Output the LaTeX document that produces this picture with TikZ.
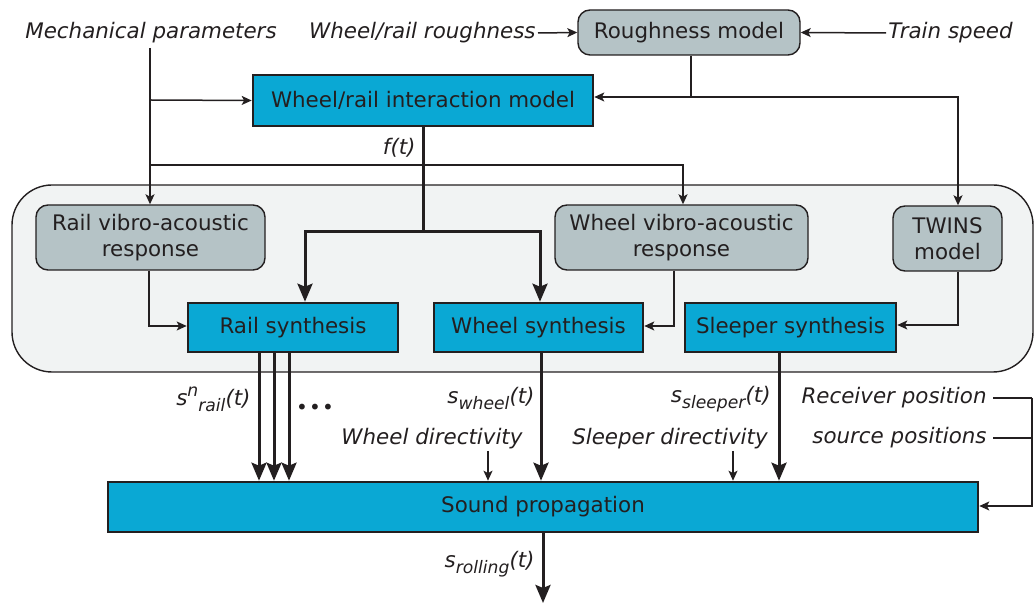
\documentclass[tikz,border=0pt]{standalone}
\usepackage{fontspec}
\setmainfont{DejaVu Sans}
\usetikzlibrary{arrows.meta}
\definecolor{blu}{HTML}{0AA8D4}
\definecolor{gry}{HTML}{B5C3C6}
\definecolor{grp}{HTML}{F1F3F3}
\definecolor{ink}{HTML}{231F20}
\newcommand{\subtxt}[1]{\raisebox{-0.28em}{\fontsize{8.6}{10}\selectfont #1}}
\newcommand{\suptxt}[1]{\raisebox{0.42em}{\fontsize{8.6}{10}\selectfont #1}}
\tikzset{
  bluebox/.style={draw=ink, fill=blu, line width=1.3pt, text=ink, inner sep=0pt, minimum height=24.5pt},
  graybox/.style={draw=ink, fill=gry, line width=0.7pt, rounded corners=6pt, text=ink, align=center, inner sep=0pt, minimum height=32.5pt},
  lbl/.style={font=\fontsize{10.7}{12.5}\selectfont\itshape, text=ink, inner sep=1pt},
  thinline/.style={draw=ink, line width=0.75pt},
  thinarr/.style={thinline, -{Stealth[length=5pt,width=4.5pt,inset=1.2pt]}},
  thickline/.style={draw=ink, line width=1.5pt},
  thickarr/.style={thickline, -{Stealth[length=9pt,width=7.5pt,inset=1.5pt]}},
}
\begin{document}
\begin{tikzpicture}[x=0.5pt,y=-0.5pt, font=\fontsize{10.7}{13}\selectfont]
\useasboundingbox (0,0) rectangle (1034,603);
% group
\draw[draw=ink, fill=grp, line width=0.7pt, rounded corners=20pt] (12,185) rectangle (1033,372);
% nodes
\node[graybox, minimum width=111pt, minimum height=22.5pt] (rough) at (689,32.5) {Roughness model};
\node[bluebox, minimum width=170pt, minimum height=25.5pt] (wri) at (423,100.5) {Wheel/rail interaction model};
\node[graybox, minimum width=114.5pt] (railva) at (150.5,237.5) {Rail vibro-acoustic\\response};
\node[graybox, minimum width=126.5pt] (wheelva) at (681.5,237.5) {Wheel vibro-acoustic\\response};
\node[graybox, minimum width=54.5pt] (twins) at (947.5,238.5) {TWINS\\model};
\node[bluebox, minimum width=105pt] (railsyn) at (293,327.5) {Rail synthesis};
\node[bluebox, minimum width=104.5pt] (wheelsyn) at (538.5,327.5) {Wheel synthesis};
\node[bluebox, minimum width=105.5pt] (sleepsyn) at (790.5,327.5) {Sleeper synthesis};
\node[bluebox, minimum width=435pt, minimum height=25pt] (sound) at (543,507) {Sound propagation};
% labels
\node[lbl] (mech) at (151,33) {Mechanical parameters};
\node[lbl, anchor=east] (wrr) at (538,33) {Wheel/rail roughness};
\node[lbl, anchor=west] (speed) at (886,33) {Train speed};
\node[lbl, anchor=east] (ft) at (418,148) {f(t)};
\node[lbl, anchor=east] (snrail) at (253,399) {s\suptxt{n}\subtxt{rail}(t)};
\node[text=ink, inner sep=0pt] (dots) at (315,409) {\fontsize{10}{12}\selectfont •\hspace{0.6pt}•\hspace{0.6pt}•};
\node[lbl, anchor=east] (swheel) at (537,399) {s\subtxt{wheel}(t)};
\node[lbl, anchor=east] (ssleeper) at (773,399) {s\subtxt{sleeper}(t)};
\node[lbl] (wdir) at (432,439) {Wheel directivity};
\node[lbl] (sdir) at (670,439) {Sleeper directivity};
\node[lbl, anchor=east] (recv) at (989,398) {Receiver position};
\node[lbl, anchor=east] (src) at (989,438) {source positions};
\node[lbl, anchor=east] (sroll) at (537,564) {s\subtxt{rolling}(t)};
\coordinate (out) at (543,603);
\coordinate (rj) at (1032,398);
\coordinate (sj) at (1032,438);
% connectors top
\draw[thinarr] (wrr.east) -- (rough.west);
\draw[thinarr] (speed.west) -- (rough.east);
\draw[thinarr] (150,48) -- (150,0 |- railva.north);
\draw[thinarr] (150,100) -- (wri.west);
\draw[thinarr] (150,165) -- (683,165) -- (683,0 |- wheelva.north);
\draw[thinline] (691,0 |- rough.south) -- (691,97);
\draw[thinarr] (691,97) -- (wri.east |- 0,97);
\draw[thinarr] (691,97) -- (958,97) -- (958,0 |- twins.north);
% f(t) thick
\draw[thickline] (423,0 |- wri.south) -- (423,232);
\draw[thickarr] (423,232) -- (305,232) -- (305,0 |- railsyn.north);
\draw[thickarr] (423,232) -- (540,232) -- (540,0 |- wheelsyn.north);
% response to synthesis
\draw[thinarr] (149,0 |- railva.south) -- (149,326) -- (railsyn.west |- 0,326);
\draw[thinarr] (674,0 |- wheelva.south) -- (674,326) -- (wheelsyn.east |- 0,326);
\draw[thinarr] (958,0 |- twins.south) -- (958,325) -- (sleepsyn.east |- 0,325);
% synthesis to sound propagation
\foreach \xx in {259,274,289} {
  \draw[thickarr] (\xx,0 |- railsyn.south) -- (\xx,0 |- sound.north);
}
\draw[thickarr] (541,0 |- wheelsyn.south) -- (541,0 |- sound.north);
\draw[thickarr] (779,0 |- sleepsyn.south) -- (779,0 |- sound.north);
\draw[thinarr] (488,451) -- (488,0 |- sound.north);
\draw[thinarr] (733,451) -- (733,0 |- sound.north);
% positions
\draw[thinline] ([xshift=2pt]recv.east) -- (rj);
\draw[thinline] ([xshift=2pt]src.east) -- (sj);
\draw[thinarr] (rj) -- (1032,506) -- (sound.east |- 0,506);
% output
\draw[thickarr] (543,0 |- sound.south) -- (out);
\end{tikzpicture}
\end{document}
